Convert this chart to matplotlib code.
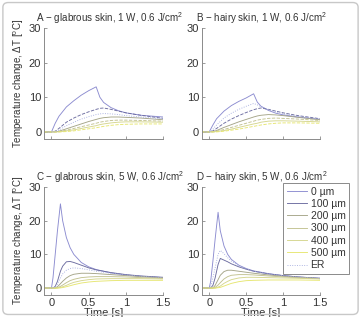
import numpy as np
import matplotlib.pyplot as plt
from matplotlib.patches import FancyBboxPatch

plt.rcParams['font.family'] = ['Liberation Sans', 'DejaVu Sans']
plt.rcParams['mathtext.fontset'] = 'custom'
plt.rcParams['mathtext.rm'] = 'Liberation Sans'
plt.rcParams['mathtext.it'] = 'Liberation Sans'

# depth labels (legend order)
labels = ['0 µm', '100 µm', '200 µm', '300 µm', '400 µm', '500 µm', 'ER']

# 1 W panels (A, B)
t_slow = [-0.1, 0, 0.05, 0.1, 0.2, 0.3, 0.4, 0.5, 0.6, 0.65, 0.7, 0.8, 0.9, 1.0, 1.2, 1.5]
glab_1w = {
    '0 µm':   [0, 0, 2.5, 4.5, 7.2, 9.0, 10.6, 11.9, 13.0, 10.0, 8.5, 7.0, 6.1, 5.5, 4.8, 4.3],
    '100 µm': [0, 0, 0.2, 1.0, 2.8, 4.0, 5.0, 5.8, 6.5, 6.8, 6.9, 6.5, 6.0, 5.5, 4.8, 3.9],
    '200 µm': [0, 0, 0, 0.2, 0.9, 1.6, 2.3, 3.0, 3.6, 3.9, 4.1, 4.3, 4.3, 4.2, 4.0, 3.5],
    '300 µm': [0, 0, 0, 0.1, 0.5, 1.0, 1.5, 2.0, 2.5, 2.8, 3.0, 3.3, 3.4, 3.4, 3.3, 3.1],
    '400 µm': [0, 0, 0, 0, 0.3, 0.6, 1.0, 1.4, 1.8, 2.1, 2.3, 2.6, 2.8, 2.9, 2.9, 2.8],
    '500 µm': [0, 0, 0, 0, 0.1, 0.3, 0.6, 0.9, 1.2, 1.4, 1.6, 1.9, 2.1, 2.2, 2.3, 2.3],
    'ER':     [0, 0, 0.1, 0.5, 1.8, 2.8, 3.7, 4.4, 5.0, 5.2, 5.3, 5.2, 5.0, 4.7, 4.3, 3.8],
}
hairy_1w = {
    '0 µm':   [0, 0, 2.0, 3.8, 6.0, 7.6, 8.8, 9.8, 11.0, 8.6, 7.4, 6.2, 5.4, 4.9, 4.3, 3.6],
    '100 µm': [0, 0, 0.3, 1.0, 2.5, 3.7, 4.7, 5.6, 6.4, 6.7, 6.9, 6.5, 6.0, 5.5, 4.7, 3.8],
    '200 µm': [0, 0, 0.1, 0.4, 1.3, 2.1, 2.9, 3.6, 4.3, 4.6, 4.8, 5.0, 4.9, 4.7, 4.2, 3.5],
    '300 µm': [0, 0, 0, 0.2, 0.7, 1.3, 1.9, 2.5, 3.1, 3.4, 3.6, 3.9, 4.0, 3.9, 3.7, 3.3],
    '400 µm': [0, 0, 0, 0.1, 0.4, 0.8, 1.3, 1.8, 2.3, 2.5, 2.8, 3.1, 3.2, 3.2, 3.1, 2.9],
    '500 µm': [0, 0, 0, 0, 0.2, 0.5, 0.8, 1.2, 1.6, 1.8, 2.0, 2.3, 2.5, 2.6, 2.6, 2.5],
    'ER':     [0, 0, 0.8, 2.0, 4.0, 5.4, 6.5, 7.4, 8.2, 7.8, 7.3, 6.4, 5.8, 5.2, 4.5, 3.7],
}

# 5 W panels (C, D)
t_fast = [-0.1, 0, 0.02, 0.05, 0.08, 0.12, 0.15, 0.2, 0.25, 0.3, 0.4, 0.5, 0.6, 0.8, 1.0, 1.2, 1.5]
glab_5w = {
    '0 µm':   [0, 0, 3, 10, 17, 25, 20, 15, 12, 10, 7.6, 6.3, 5.5, 4.5, 3.9, 3.5, 3.1],
    '100 µm': [0, 0, 0, 0.5, 2, 5, 6.5, 7.8, 7.9, 7.6, 6.8, 6.0, 5.4, 4.6, 4.0, 3.6, 3.2],
    '200 µm': [0, 0, 0, 0, 0.4, 1.3, 2.0, 3.0, 3.7, 4.1, 4.4, 4.4, 4.3, 4.0, 3.7, 3.4, 3.0],
    '300 µm': [0, 0, 0, 0, 0.1, 0.5, 0.9, 1.6, 2.2, 2.6, 3.1, 3.3, 3.4, 3.4, 3.3, 3.1, 2.9],
    '400 µm': [0, 0, 0, 0, 0, 0.2, 0.4, 0.8, 1.3, 1.7, 2.2, 2.5, 2.7, 2.8, 2.8, 2.8, 2.7],
    '500 µm': [0, 0, 0, 0, 0, 0.05, 0.15, 0.4, 0.7, 1.0, 1.5, 1.8, 2.0, 2.2, 2.3, 2.3, 2.3],
    'ER':     [0, 0, 0, 0.3, 1.2, 3.0, 4.2, 5.3, 5.8, 6.0, 5.8, 5.4, 5.0, 4.4, 3.9, 3.5, 3.1],
}
hairy_5w = {
    '0 µm':   [0, 0, 2, 8, 14.5, 22.5, 17, 12.5, 10, 8.5, 6.8, 5.8, 5.1, 4.3, 3.7, 3.3, 2.9],
    '100 µm': [0, 0, 0, 0.8, 3, 7, 8.8, 8.3, 7.8, 7.2, 6.3, 5.6, 5.0, 4.2, 3.7, 3.3, 2.9],
    '200 µm': [0, 0, 0, 0, 0.8, 2.5, 3.8, 4.9, 5.3, 5.3, 5.0, 4.7, 4.4, 3.9, 3.5, 3.2, 2.8],
    '300 µm': [0, 0, 0, 0, 0.2, 0.9, 1.6, 2.7, 3.4, 3.8, 4.0, 4.0, 3.9, 3.6, 3.3, 3.1, 2.8],
    '400 µm': [0, 0, 0, 0, 0, 0.3, 0.6, 1.4, 2.0, 2.5, 3.0, 3.2, 3.2, 3.1, 3.0, 2.9, 2.7],
    '500 µm': [0, 0, 0, 0, 0, 0.1, 0.2, 0.6, 1.0, 1.4, 1.9, 2.2, 2.3, 2.4, 2.4, 2.4, 2.3],
    'ER':     [0, 0, 0.5, 3, 6, 10, 11.2, 10.2, 9, 8, 6.6, 5.7, 5.0, 4.2, 3.7, 3.3, 2.9],
}

titles = ['A \u2212 glabrous skin, 1 W, 0.6 J/cm$^2$',
          'B \u2212 hairy skin, 1 W, 0.6 J/cm$^2$',
          'C \u2212 glabrous skin, 5 W, 0.6 J/cm$^2$',
          'D \u2212 hairy skin, 5 W, 0.6 J/cm$^2$']
title_x = [-0.067, -0.045, -0.067, -0.045]

colors = {'0 µm': '#8c8cd0', '100 µm': '#6c6ca0', '200 µm': '#a5a588',
          '300 µm': '#c2c290', '400 µm': '#d5d68e', '500 µm': '#e6e670',
          'ER': '#a4acdf'}
styles_top = {'0 µm': '-', '100 µm': '--', '200 µm': '-', '300 µm': '--',
              '400 µm': '-', '500 µm': '--', 'ER': ':'}
styles_bot = {k: '-' for k in labels}
styles_bot['ER'] = ':'

txt = '#333333'
fig = plt.figure(figsize=(3.61, 3.17), dpi=100)
fig.patches.append(FancyBboxPatch((0.008, 0.008), 0.984, 0.984,
                                  boxstyle='round,pad=0,rounding_size=0.015',
                                  transform=fig.transFigure, fill=False,
                                  edgecolor='#c8c8c8', linewidth=1.0))

pos = [[0.122, 0.562, 0.330, 0.350], [0.559, 0.562, 0.328, 0.350],
       [0.122, 0.070, 0.330, 0.340], [0.559, 0.070, 0.328, 0.340]]
panels = [(t_slow, glab_1w, styles_top), (t_slow, hairy_1w, styles_top),
          (t_fast, glab_5w, styles_bot), (t_fast, hairy_5w, styles_bot)]

for i, (t, data, sty) in enumerate(panels):
    ax = fig.add_axes(pos[i])
    for k in labels:
        ax.plot(t, data[k], color=colors[k], ls=sty[k], lw=0.65, label=k)
    ax.set_xlim(-0.1, 1.5)
    ax.set_ylim(-2, 30)
    ax.set_xticks([0, 0.5, 1, 1.5])
    ax.set_yticks([0, 10, 20, 30])
    for s in ['top', 'right']:
        ax.spines[s].set_visible(False)
    for s in ['left', 'bottom']:
        ax.spines[s].set_color('#8a8a8a')
        ax.spines[s].set_linewidth(0.7)
    ax.tick_params(direction='in', length=2.5, width=0.6, color='#8a8a8a',
                   labelsize=8, labelcolor=txt, pad=2)
    ax.set_title(titles[i], fontsize=7.1, color=txt, pad=4.5, loc='left',
                 x=title_x[i])
    if i < 2:
        ax.set_xticklabels([])
    else:
        ax.set_xticklabels(['0', '0.5', '1', '1.5'])
        ax.set_xlabel('Time [s]', fontsize=8, color=txt, labelpad=0)
    if i % 2 == 0:
        ax.set_ylabel('Temperature change, $\\Delta$T [$^o$C]', fontsize=7,
                      color=txt, labelpad=2)
    if i == 3:
        leg = ax.legend(loc='upper right', bbox_to_anchor=(0.967, 0.423),
                        bbox_transform=fig.transFigure, fontsize=7.5,
                        handlelength=2.0, labelspacing=0.22, borderpad=0.35,
                        handletextpad=0.3, fancybox=False, framealpha=1,
                        borderaxespad=0)
        leg.get_frame().set_edgecolor('#8a8a8a')
        leg.get_frame().set_linewidth(0.7)
        for tx in leg.get_texts():
            tx.set_color(txt)

fig.savefig('out.png', dpi=100)
